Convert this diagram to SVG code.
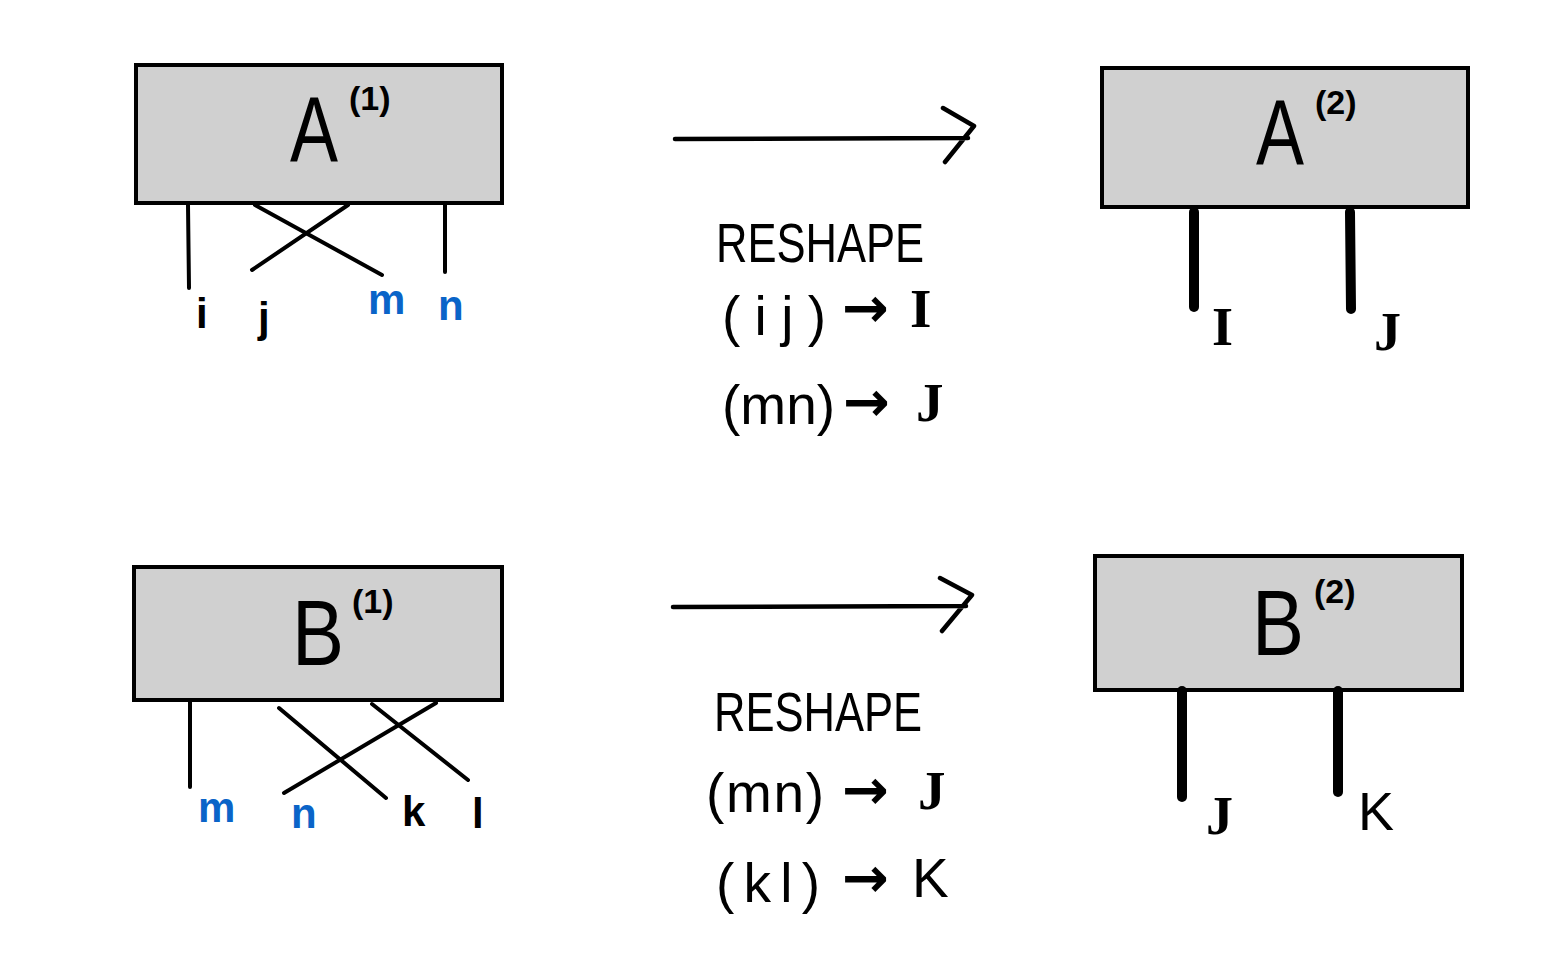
<svg xmlns="http://www.w3.org/2000/svg" width="1548" height="968" viewBox="0 0 1548 968">
<style>
.box{fill:#d0d0d0;stroke:#000;stroke-width:4;stroke-linejoin:miter}
.leg{stroke:#000;stroke-width:4;stroke-linecap:round;fill:none}
.fat{stroke:#000;stroke-width:10;stroke-linecap:round;fill:none}
.arr{stroke:#000;stroke-width:4.5;stroke-linecap:round;stroke-linejoin:round;fill:none}
text{font-family:"Liberation Sans","DejaVu Sans",sans-serif;fill:#000}
.big{font-size:92px}
.sup{font-size:34px;font-weight:bold}
.lbl{font-size:42px;font-weight:bold}
.cap2{font-size:54px}
.ser{font-family:"Liberation Serif",serif;font-weight:bold}
.blue{fill:#0a64c8}
.cap{font-size:56px}
.rule{font-size:55px}
.ar{font-family:"DejaVu Sans",sans-serif;font-size:56px;font-weight:bold}
</style>
<rect width="1548" height="968" fill="#fff"/>
<g id="A1">
<rect class="box" x="136" y="65" width="366" height="138"/>
<text class="big" x="290" y="162"><tspan textLength="48" lengthAdjust="spacingAndGlyphs">A</tspan><tspan class="sup" x="349" y="110">(1)</tspan></text>
<text class="lbl" x="196" y="328">i</text>
<text class="lbl" x="258" y="332">j</text>
<text class="lbl blue" x="368" y="314">m</text>
<text class="lbl blue" x="438" y="320">n</text>
</g>
<g id="A2">
<rect class="box" x="1102" y="68" width="366" height="139"/>
<text class="big" x="1256" y="165"><tspan textLength="48" lengthAdjust="spacingAndGlyphs">A</tspan><tspan class="sup" x="1315" y="114">(2)</tspan></text>
<text class="cap2 ser" x="1212" y="345">I</text>
<text class="cap2 ser" x="1374" y="350">J</text>
</g>
<g id="B1">
<rect class="box" x="134" y="567" width="368" height="133"/>
<text class="big" x="292" y="665"><tspan textLength="52" lengthAdjust="spacingAndGlyphs">B</tspan><tspan class="sup" x="352" y="613">(1)</tspan></text>
<text class="lbl blue" x="198" y="822">m</text>
<text class="lbl blue" x="291" y="828">n</text>
<text class="lbl" x="402" y="826">k</text>
<text class="lbl" x="472" y="828">l</text>
</g>
<g id="B2">
<rect class="box" x="1095" y="556" width="367" height="134"/>
<text class="big" x="1252" y="655"><tspan textLength="52" lengthAdjust="spacingAndGlyphs">B</tspan><tspan class="sup" x="1314" y="603">(2)</tspan></text>
<text class="cap2 ser" x="1206" y="834">J</text>
<text class="cap2" x="1358" y="830">K</text>
</g>
<g id="reshape1">
<text class="cap" x="716" y="262" textLength="208" lengthAdjust="spacingAndGlyphs">RESHAPE</text>
<text class="rule" y="335"><tspan x="722" textLength="104" lengthAdjust="spacing">(ij)</tspan><tspan class="ar" x="842" y="327">→</tspan><tspan class="ser" x="910">I</tspan></text>
<text class="rule" y="424"><tspan x="722">(mn)</tspan><tspan class="ar" x="843" y="421">→</tspan><tspan class="ser" x="916">J</tspan></text>
</g>
<g id="reshape2">
<text class="cap" x="714" y="731" textLength="208" lengthAdjust="spacingAndGlyphs">RESHAPE</text>
<text class="rule" y="812"><tspan x="706" textLength="118" lengthAdjust="spacing">(mn)</tspan><tspan class="ar" x="842" y="809">→</tspan><tspan class="ser" x="918">J</tspan></text>
<text class="rule" y="902"><tspan x="716" textLength="104" lengthAdjust="spacing">(kl)</tspan><tspan class="ar" x="842" y="897">→</tspan><tspan x="912">K</tspan></text>
</g>
<g id="connectors">
<line class="leg" x1="188" y1="205" x2="189" y2="288"/>
<line class="leg" x1="445" y1="205" x2="445" y2="272"/>
<line class="leg" x1="255" y1="205" x2="382" y2="275"/>
<line class="leg" x1="348" y1="205" x2="252" y2="270"/>
<line class="fat" x1="1194" y1="212" x2="1194" y2="307"/>
<line class="fat" x1="1350" y1="212" x2="1351" y2="309"/>
<line class="leg" x1="190" y1="702" x2="190" y2="787"/>
<line class="leg" x1="279" y1="708" x2="386" y2="798"/>
<line class="leg" x1="372" y1="704" x2="468" y2="780"/>
<line class="leg" x1="436" y1="703" x2="284" y2="793"/>
<line class="fat" x1="1182" y1="691" x2="1182" y2="797"/>
<line class="fat" x1="1338" y1="691" x2="1338" y2="792"/>
<path class="arr" d="M675 139 L968 138 M943 108 L974 126 L945 162"/>
<path class="arr" d="M673 607 L966 606 M940 578 L972 595 L942 631"/>
</g>
</svg>
